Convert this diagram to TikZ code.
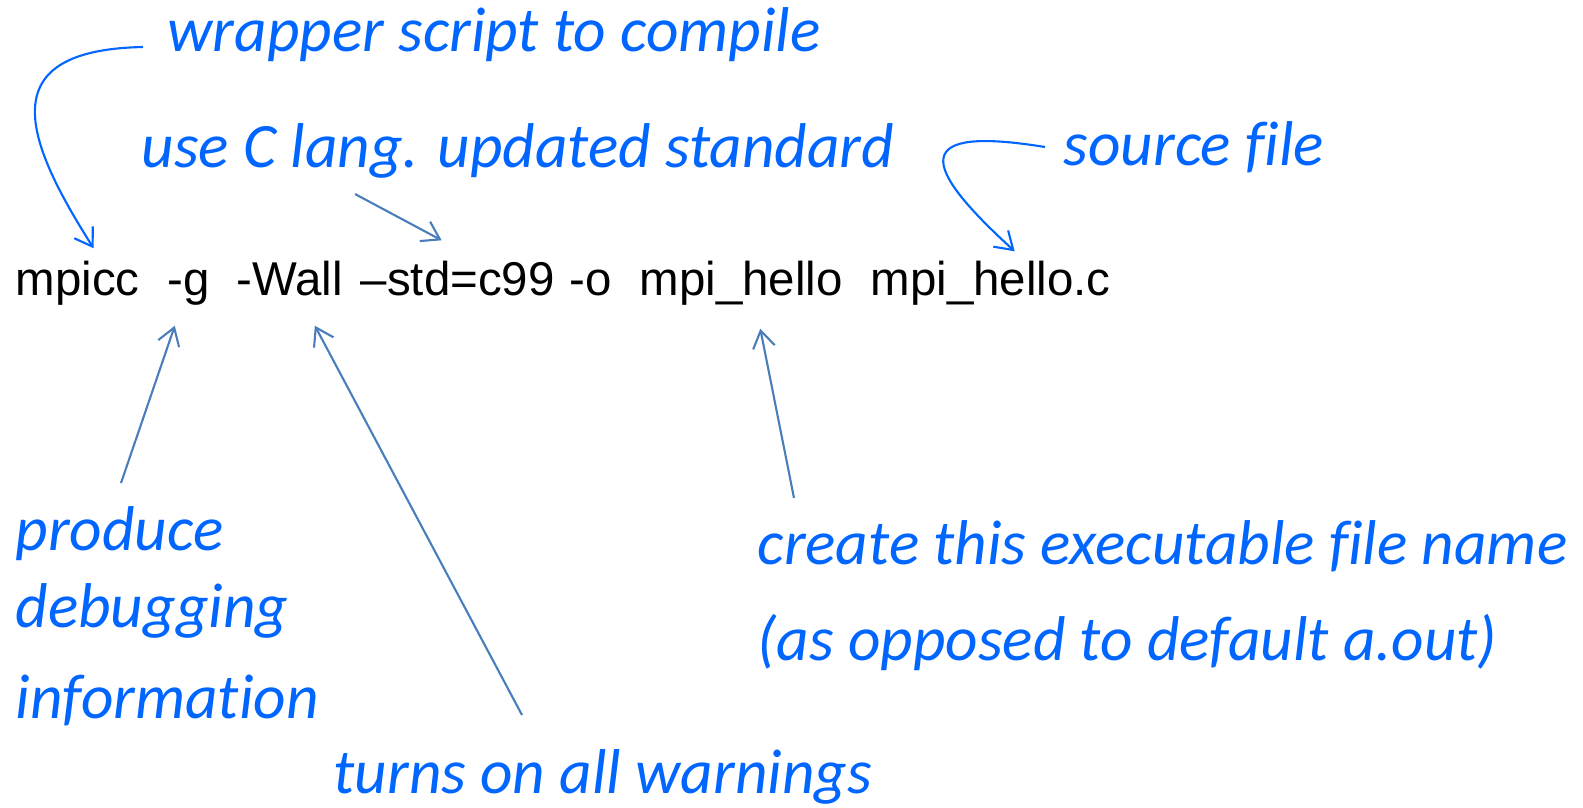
\documentclass[tikz,border=0pt]{standalone}
\usepackage{fontspec}
\usepackage{tikz}
\usetikzlibrary{arrows.meta, positioning, calc}
\newfontfamily\notefont{Carlito}[Ligatures=NoCommon]
\newfontfamily\cmdfont{Liberation Sans}
\definecolor{noteblue}{HTML}{0066FF}
\definecolor{steelblue}{HTML}{4A7EBB}

\begin{document}
\begin{tikzpicture}[
    cmd/.style={anchor=base west, inner xsep=0pt, inner ysep=0.2cm, text height=0.34cm, text depth=0.1cm,
      font=\cmdfont\fontsize{13.5}{16}\selectfont},
    note/.style={anchor=base west, inner sep=0pt, text=noteblue,
      font=\notefont\itshape\fontsize{18}{22}\selectfont},
    curvearrow/.style={draw=noteblue, line width=0.6pt, -{Straight Barb[length=1.7mm, width=2.2mm]}},
    plainarrow/.style={draw=steelblue, line width=0.6pt, -{Straight Barb[length=1.7mm, width=2.2mm]}}
  ]
  \useasboundingbox (0,0) rectangle (15.83,-8.07);

  % the command line
  \node[cmd] (mpicc) at (0.15,-2.95) {mpicc};
  \node[cmd] (g)     at (1.67,-2.95) {-g};
  \node[cmd] (wall)  at (2.36,-2.95) {-Wall};
  \node[cmd] (std)   at (3.60,-2.95) {–std=c99};
  \node[cmd] (o)     at (5.69,-2.95) {-o};
  \node[cmd] (exe)   at (6.39,-2.95) {mpi\_hello};
  \node[cmd] (src)   at (8.70,-2.95) {mpi\_hello.c};

  % notes
  \node[note] (wrapper) at (1.67,-0.51) {wrapper script to compile};
  \node[note] (cstd)    at (1.41,-1.67) {use C lang. updated standard};
  \node[note] (source)  at (10.63,-1.65) {source f\kern0pt ile};
  \node[note] (produce) at (0.15,-5.50) {produce};
  \node[note] (debug)   at (0.15,-6.27) {debugging};
  \node[note] (info)    at (0.15,-7.18) {information};
  \node[note] (warn)    at (3.33,-7.93) {turns on all warnings};
  \node[note] (create)  at (7.57,-5.64) {create this executable f\kern0pt ile name};
  \node[note] (default) at (7.57,-6.60) {(as opposed to default a.out)};

  % arrow tails
  \coordinate (wrapT)  at (1.43,-0.47);
  \coordinate (cstdT)  at (3.55,-1.94);
  \coordinate (srcT)   at (10.45,-1.47);
  \coordinate (gT)     at (1.21,-4.83);
  \coordinate (wallT)  at (5.22,-7.15);
  \coordinate (exeT)   at (7.94,-4.98);

  % arrows
  \path[curvearrow] (wrapT) .. controls (-0.1,-0.5) and (0.25,-1.4) .. ([xshift=0.16cm, yshift=-0.08cm]mpicc.north);
  \path[curvearrow] (srcT) .. controls (9.1,-1.25) and (9.2,-1.65) .. ([xshift=0.24cm, yshift=-0.11cm]src.north);
  \path[plainarrow] (cstdT) -- ([xshift=-0.16cm]std.north);
  \path[plainarrow] (gT) -- ([xshift=-0.14cm]g.south);
  \path[plainarrow] (wallT) -- ([xshift=0.25cm]wall.south);
  \path[plainarrow] (exeT) -- ([xshift=0.19cm, yshift=-0.03cm]exe.south);
\end{tikzpicture}
\end{document}
